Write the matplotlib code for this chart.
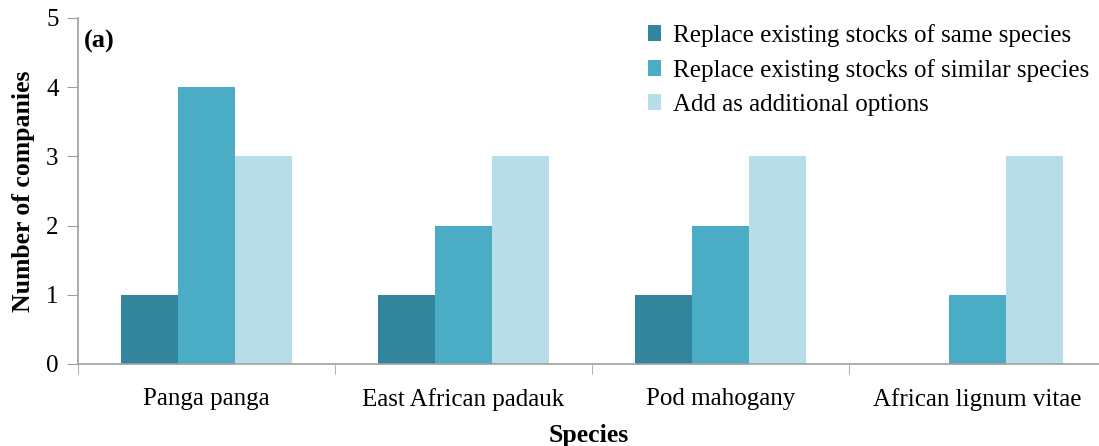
import matplotlib.pyplot as plt
import numpy as np

species = ["Panga panga", "East African padauk", "Pod mahogany", "African lignum vitae"]
series_names = ["Replace existing stocks of same species",
                "Replace existing stocks of similar species",
                "Add as additional options"]
same_species = [1, 1, 1, 0]
similar_species = [4, 2, 2, 1]
additional = [3, 3, 3, 3]
colors = ["#31859C", "#4BACC6", "#B7DEE8"]

plt.rcParams['font.family'] = ['Liberation Serif', 'DejaVu Serif']

fig = plt.figure(figsize=(10.99, 4.46), dpi=100)
ax = fig.add_axes([78 / 1099, 0.1839, 1 - 78 / 1099, 0.7758])

x = np.arange(len(species))
w = 0.222
for i, (vals, name) in enumerate(zip([same_species, similar_species, additional], series_names)):
    ax.bar(x + (i - 1) * w, vals, width=w, color=colors[i], label=name)

ax.set_xlim(-0.5, 3.5 - 7 / 257)
ax.set_ylim(0, 5)
ax.set_yticks(range(6))
ax.set_xticks(x)
ax.set_xticklabels(species, fontsize=18)
ax.set_xticks(np.arange(-0.5, 3.5, 1), minor=True)
ax.tick_params(axis='x', which='major', length=0, pad=17)
ax.tick_params(axis='x', which='minor', length=7, color='#A0A0A0', direction='out')
ax.tick_params(axis='y', labelsize=18, length=8, color='#A0A0A0', direction='out', pad=6)

for s in ['top', 'right']:
    ax.spines[s].set_visible(False)
for s in ['left', 'bottom']:
    ax.spines[s].set_color('#A0A0A0')
    ax.spines[s].set_linewidth(1.2)

ax.set_ylabel("Number of companies", fontsize=18.5, fontweight='bold', labelpad=8)
ax.set_xlabel("Species", fontsize=18.5, fontweight='bold', labelpad=10)
ax.text(0.006, 0.965, "(a)", transform=ax.transAxes, fontsize=19, fontweight='bold', va='top')

ax.legend(loc='upper right', bbox_to_anchor=(1.012, 1.048), frameon=False, fontsize=18,
          handlelength=0.55, handleheight=0.55, handletextpad=0.45, labelspacing=0.48)

fig.savefig("out.png", dpi=100)
